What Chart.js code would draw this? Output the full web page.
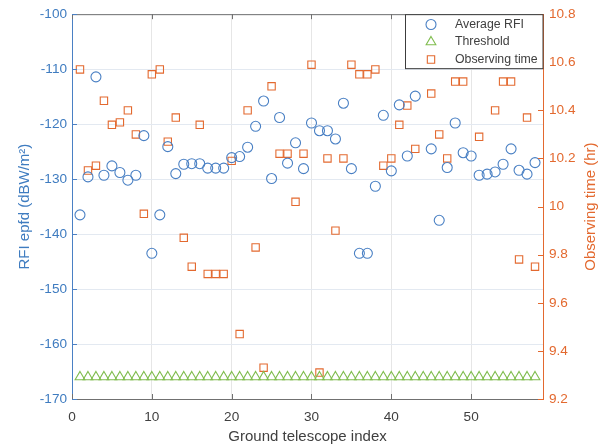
<!DOCTYPE html>
<html>
<head>
<meta charset="utf-8">
<script src="https://cdn.jsdelivr.net/npm/chart.js@4.4.0/dist/chart.umd.min.js"></script>
<style>
html, body { margin: 0; padding: 0; background: #fff; }
</style>
</head>
<body>
<canvas id="canvas1" width="606" height="447"></canvas>
<script>
// telescope index 1..58
const telescopes = [];
for (let i = 1; i <= 58; i++) telescopes.push(i);

// average RFI epfd, dBW/m2 (null = no point)
const averageRfi = [
    -136.5, -129.6, -111.4, -129.3, -127.6, -128.8, -130.2, -129.3, -122.1, -143.5,
    -136.5, -124.1, -129.0, -127.3, -127.2, -127.2, -128.0, -128.0, -128.0, -126.1,
    -125.9, -124.2, -120.4, -115.8, -129.9, -118.8, -127.1, -123.4, -128.1, -119.8,
    -121.2, -121.2, -122.7, -116.2, -128.1, -143.5, -143.5, -131.3, -118.4, -128.5,
    -116.5, -125.8, -114.9, null, -124.5, -137.5, -127.9, -119.8, -125.2, -125.8,
    -129.3, -129.1, -128.7, -127.3, -124.5, -128.4, -129.1, -127.0
];

const threshold = [
    -166, -166, -166, -166, -166, -166, -166, -166, -166, -166,
    -166, -166, -166, -166, -166, -166, -166, -166, -166, -166,
    -166, -166, -166, -166, -166, -166, -166, -166, -166, -166,
    -166, -166, -166, -166, -166, -166, -166, -166, -166, -166,
    -166, -166, -166, -166, -166, -166, -166, -166, -166, -166,
    -166, -166, -166, -166, -166, -166, -166, -166
];

// observing time, hours
const observingTime = [
    10.57, 10.15, 10.17, 10.44, 10.34, 10.35, 10.40, 10.30, 9.97, 10.55,
    10.57, 10.27, 10.37, 9.87, 9.75, 10.34, 9.72, 9.72, 9.72, 10.19,
    9.47, 10.40, 9.83, 9.33, 10.50, 10.22, 10.22, 10.02, 10.22, 10.59,
    9.31, 10.20, 9.90, 10.20, 10.59, 10.55, 10.55, 10.57, 10.17, 10.20,
    10.34, 10.42, 10.24, null, 10.47, 10.30, 10.20, 10.52, 10.52, null,
    10.29, null, 10.40, 10.52, 10.52, 9.78, 10.37, 9.75
];

const xTicks = { min: 0, max: 59, step: 10 };
const leftTicks = { min: -170, max: -100, step: 10 };
const rightTicks = { min: 9.2, max: 10.8, step: 0.2 };

const blue = "#4a80c4";
const blueText = "#3f7cc0";
const orange = "#e3692f";
const green = "#80bd4f";
const gray = "#404040";

function points(values){
    const out = [];
    for (let i = 0; i < values.length; i++) {
        if (values[i] !== null) out.push({ x: telescopes[i], y: values[i] });
    }
    return out;
}

Chart.defaults.font.family = "'Liberation Sans', Arial, sans-serif";

// box lines, inward tick marks, right title and legend
const framePlugin = {
    id: "frame",
    afterDraw(chart){
        const ctx = chart.ctx;
        const a = chart.chartArea;
        const sx = chart.scales.x, sy = chart.scales.y, sy2 = chart.scales.y2;
        ctx.save();
        ctx.lineWidth = 1;

        ctx.strokeStyle = "#707070";
        ctx.beginPath();
        ctx.moveTo(a.left, a.top + 0.5);
        ctx.lineTo(a.right, a.top + 0.5);
        sx.ticks.forEach(function(t){
            const px = Math.round(sx.getPixelForValue(t.value)) + 0.5;
            ctx.moveTo(px, a.bottom);
            ctx.lineTo(px, a.bottom - 5);
            ctx.moveTo(px, a.top);
            ctx.lineTo(px, a.top + 5);
        });
        ctx.stroke();

        ctx.strokeStyle = blue;
        ctx.beginPath();
        sy.ticks.forEach(function(t){
            const py = Math.round(sy.getPixelForValue(t.value)) + 0.5;
            ctx.moveTo(a.left, py);
            ctx.lineTo(a.left + 5, py);
        });
        ctx.stroke();

        ctx.strokeStyle = orange;
        ctx.beginPath();
        sy2.ticks.forEach(function(t){
            const py = Math.round(sy2.getPixelForValue(t.value)) + 0.5;
            ctx.moveTo(a.right, py);
            ctx.lineTo(a.right - 5, py);
        });
        ctx.stroke();

        // right axis title, reading bottom to top
        ctx.fillStyle = orange;
        ctx.font = "15px 'Liberation Sans', Arial, sans-serif";
        ctx.textAlign = "center";
        ctx.textBaseline = "middle";
        ctx.translate(591, (a.top + a.bottom) / 2);
        ctx.rotate(-Math.PI / 2);
        ctx.fillText("Observing time (hr)", 0, 0);
        ctx.restore();

        // legend
        ctx.save();
        const bx = 405.5, by = a.top + 0.5, bw = a.right - 405.5, bh = 54;
        ctx.fillStyle = "#ffffff";
        ctx.fillRect(bx, by, bw, bh);
        ctx.strokeStyle = "#3c3c3c";
        ctx.lineWidth = 1;
        ctx.strokeRect(bx, by, bw, bh);
        ctx.font = "12.3px 'Liberation Sans', Arial, sans-serif";
        ctx.textAlign = "left";
        ctx.textBaseline = "middle";
        chart.data.datasets.forEach(function(ds, i){
            const ly = 24.5 + i * 17.5;
            ctx.strokeStyle = ds.borderColor;
            ctx.fillStyle = "rgba(0,0,0,0)";
            ctx.lineWidth = ds.borderWidth;
            Chart.helpers.drawPoint(ctx, {
                pointStyle: ds.pointStyle,
                radius: ds.pointRadius,
                rotation: 0,
                borderWidth: ds.borderWidth
            }, 431, ly);
            ctx.fillStyle = gray;
            ctx.fillText(ds.label, 455, ly);
        });
        ctx.restore();
    }
};

const data1 = {
    datasets: [
        {
            label: "Average RFI",
            data: points(averageRfi),
            yAxisID: "y",
            pointStyle: "circle",
            pointRadius: 5,
            borderWidth: 1.1,
            borderColor: blue,
            backgroundColor: "rgba(0,0,0,0)"
        },
        {
            label: "Threshold",
            data: points(threshold),
            yAxisID: "y",
            pointStyle: "triangle",
            pointRadius: 5.6,
            borderWidth: 1.1,
            borderColor: green,
            backgroundColor: "rgba(0,0,0,0)"
        },
        {
            label: "Observing time",
            data: points(observingTime),
            yAxisID: "y2",
            pointStyle: "rect",
            pointRadius: 5.2,
            borderWidth: 1.1,
            borderColor: orange,
            backgroundColor: "rgba(0,0,0,0)"
        }
    ]
};

const config1 = {
    type: "scatter",
    data: data1,
    plugins: [framePlugin],
    options: {
        responsive: false,
        animation: false,
        devicePixelRatio: 1,
        layout: { padding: { top: 14, left: 0, right: 0, bottom: 0 } },
        plugins: {
            legend: { display: false },
            tooltip: { enabled: false }
        },
        scales: {
            x: {
                type: "linear",
                position: "bottom",
                min: xTicks.min,
                max: xTicks.max,
                ticks: {
                    stepSize: xTicks.step,
                    includeBounds: false,
                    color: gray,
                    font: { size: 13.6 },
                    padding: 10,
                    maxRotation: 0
                },
                grid: { color: "#e6e6e6", drawTicks: false },
                border: { color: "#707070" },
                title: {
                    display: true,
                    text: "Ground telescope index",
                    color: gray,
                    font: { size: 15 },
                    padding: { top: 0, bottom: 1 }
                },
                afterFit: function(scale){ scale.height = 48; }
            },
            y: {
                type: "linear",
                position: "left",
                min: leftTicks.min,
                max: leftTicks.max,
                ticks: {
                    stepSize: leftTicks.step,
                    color: blueText,
                    font: { size: 13.6 },
                    padding: 5
                },
                grid: { color: "#e3e9f1", drawTicks: false },
                border: { color: blue },
                title: {
                    display: true,
                    text: "RFI epfd (dBW/m²)",
                    color: blueText,
                    font: { size: 15 },
                    padding: { top: 16, bottom: 0 }
                },
                afterFit: function(scale){ scale.width = 72; }
            },
            y2: {
                type: "linear",
                position: "right",
                min: rightTicks.min,
                max: rightTicks.max,
                ticks: {
                    stepSize: rightTicks.step,
                    color: orange,
                    font: { size: 13.6 },
                    padding: 6,
                    callback: function(v){ return String(Number(v.toFixed(1))); }
                },
                grid: { drawOnChartArea: false, drawTicks: false },
                border: { color: orange },
                afterFit: function(scale){ scale.width = 63; }
            }
        }
    }
};

new Chart(document.getElementById("canvas1"), config1);
</script>
</body>
</html>
